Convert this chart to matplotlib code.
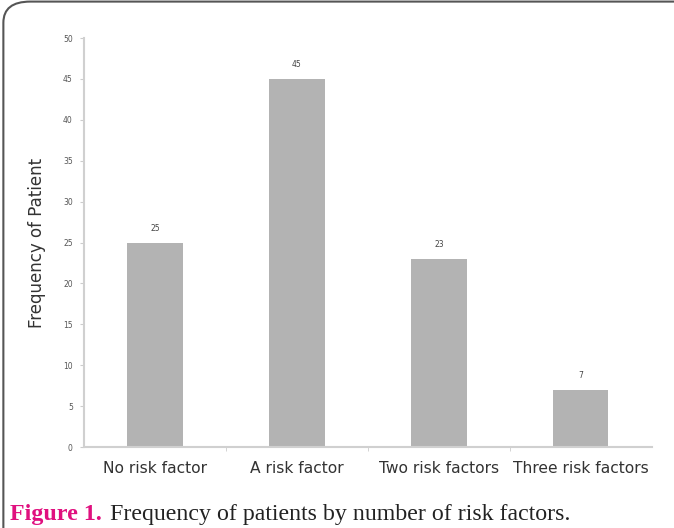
import matplotlib.pyplot as plt
from matplotlib.patches import FancyBboxPatch

categories = ['No risk factor', 'A risk factor', 'Two risk factors', 'Three risk factors']
patients = [25, 45, 23, 7]
yticks = [0, 5, 10, 15, 20, 25, 30, 35, 40, 45, 50]

fig = plt.figure(figsize=(6.74, 5.28), dpi=100)

# rounded frame around the figure
frame = FancyBboxPatch((0.005, -0.05), 1.1, 1.047, boxstyle='round,pad=0,rounding_size=0.04',
                       transform=fig.transFigure, fill=False, edgecolor='#555555', linewidth=1.5)
fig.patches.append(frame)

ax = fig.add_axes([0.1246, 0.1534, 0.8424, 0.7746])
x = range(len(categories))
ax.bar(x, patients, width=0.39, color='#b3b3b3')
for i, v in enumerate(patients):
    ax.text(i, v + 1.2, str(v), ha='center', va='bottom', fontsize=5.5, color='#444444')

ax.set_xlim(-0.5, 3.5)
ax.set_ylim(0, 50)
ax.set_yticks(yticks)
ax.set_xticks(list(x))
ax.set_xticklabels(categories, fontsize=11.2, color='#333333')
ax.set_xticks([0.5, 1.5, 2.5], minor=True)
ax.tick_params(axis='x', which='major', length=0, pad=10)
ax.tick_params(axis='x', which='minor', length=3, color='#cccccc')
ax.tick_params(axis='y', length=3, color='#cccccc', labelsize=5.5, labelcolor='#555555', pad=5)
for s in ['top', 'right']:
    ax.spines[s].set_visible(False)
for s in ['left', 'bottom']:
    ax.spines[s].set_color('#d0d0d0')
    ax.spines[s].set_linewidth(1.5)
ax.set_ylabel('Frequency of Patient', fontsize=12, color='#333333', labelpad=12)

fig.text(0.015, 0.016, 'Figure 1.', fontsize=17.3, fontweight='bold', color='#e0107f',
         family='Liberation Serif', va='baseline')
fig.text(0.163, 0.016, 'Frequency of patients by number of risk factors.', fontsize=17.2,
         color='#222222', family='Liberation Serif', va='baseline')

fig.savefig('out.png', dpi=100)
